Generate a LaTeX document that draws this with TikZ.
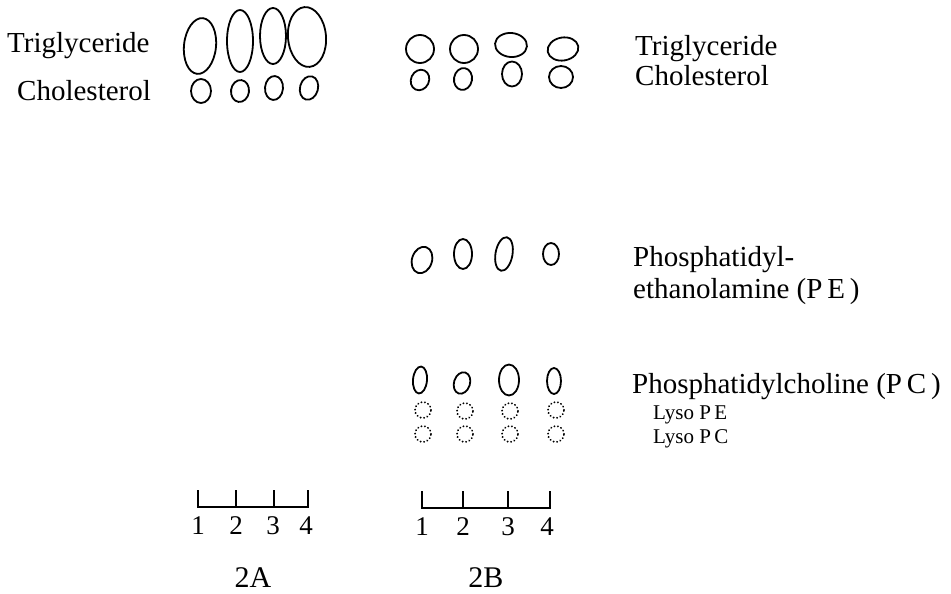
\documentclass[tikz,border=0pt]{standalone}
\usepackage{fontspec}
\setmainfont{Liberation Serif}
\usetikzlibrary{shapes.geometric}
\begin{document}
\begin{tikzpicture}[x=1pt,y=-1pt,
  spot/.style={draw,ellipse,line width=1.8pt,inner sep=0pt},
  dspot/.style={draw,circle,line width=2pt,inner sep=0pt,minimum size=16pt,
     dash pattern=on 0.1pt off 3.4pt,line cap=round},
  lab/.style={anchor=base west,inner sep=0pt,font=\fontsize{29}{32}\selectfont},
  small/.style={anchor=base west,inner sep=0pt,font=\fontsize{21}{24}\selectfont},
  num/.style={anchor=base,inner sep=0pt,font=\fontsize{27}{30}\selectfont},
  big/.style={anchor=base,inner sep=0pt,font=\fontsize{30}{33}\selectfont},
  bar/.style={line width=1.4pt}]
\useasboundingbox (0,0) rectangle (951,594);
% ---- 2A ----
\node[spot,minimum width=32pt,minimum height=56pt,rotate=-6] (at1) at (200,46) {};
\node[spot,minimum width=26pt,minimum height=62pt] (at2) at (240,41) {};
\node[spot,minimum width=26pt,minimum height=56pt] (at3) at (273,36) {};
\node[spot,minimum width=38pt,minimum height=60pt,rotate=5] (at4) at (307,37) {};
\node[spot,minimum width=20pt,minimum height=24pt] (ac1) at (201,91) {};
\node[spot,minimum width=18pt,minimum height=22pt,rotate=-8] (ac2) at (240,91) {};
\node[spot,minimum width=18pt,minimum height=24pt,rotate=-5] (ac3) at (274,88) {};
\node[spot,minimum width=18pt,minimum height=24pt,rotate=-15] (ac4) at (309,88) {};
\node[lab] (ltA) at (7,53) {Triglyceride};
\node[lab] (lcA) at (17,100) {Cholesterol};
% ---- 2B ----
\node[spot,minimum width=28pt,minimum height=28pt] (bt1) at (420,49) {};
\node[spot,minimum width=28pt,minimum height=28pt] (bt2) at (464,49) {};
\node[spot,minimum width=32pt,minimum height=24pt,rotate=-5] (bt3) at (511,45) {};
\node[spot,minimum width=31pt,minimum height=23pt,rotate=10] (bt4) at (563,49) {};
\node[spot,minimum width=18pt,minimum height=21pt,rotate=-25] (bc1) at (420,80) {};
\node[spot,minimum width=18pt,minimum height=22pt,rotate=-10] (bc2) at (463,79) {};
\node[spot,minimum width=20pt,minimum height=25pt] (bc3) at (512,74) {};
\node[spot,minimum width=24pt,minimum height=22pt] (bc4) at (561,77) {};
\node[lab] (ltB) at (635,56) {Triglyceride};
\node[lab] (lcB) at (635,85) {Cholesterol};
% PE
\node[spot,minimum width=20pt,minimum height=27pt,rotate=-18] (pe1) at (422,260) {};
\node[spot,minimum width=18pt,minimum height=30pt] (pe2) at (463,254) {};
\node[spot,minimum width=17pt,minimum height=34pt,rotate=-10] (pe3) at (504,254) {};
\node[spot,minimum width=16pt,minimum height=22pt] (pe4) at (551,254) {};
\node[lab] (lpe1) at (633,266) {Phosphatidyl-};
\node[lab] (lpe2) at (633,298) {ethanolamine (P\,E\,)};
% PC
\node[spot,minimum width=14pt,minimum height=27pt,rotate=-5] (pc1) at (420,380) {};
\node[spot,minimum width=16pt,minimum height=22pt,rotate=-18] (pc2) at (462,383) {};
\node[spot,minimum width=20pt,minimum height=31pt] (pc3) at (509,380) {};
\node[spot,minimum width=14pt,minimum height=26pt] (pc4) at (554,381) {};
\node[lab] (lpc) at (632,393) {Phosphatidylcholine (P\,C\,)};
% Lyso
\node[dspot] (le1) at (423,410) {};
\node[dspot] (le2) at (465,411) {};
\node[dspot] (le3) at (510,411) {};
\node[dspot] (le4) at (556,410) {};
\node[dspot] (lc1) at (423,434) {};
\node[dspot] (lc2) at (465,434) {};
\node[dspot] (lc3) at (510,434) {};
\node[dspot] (lc4) at (556,434) {};
\node[small] (llpe) at (653,419) {Lyso P\,E};
\node[small] (llpc) at (653,443) {Lyso P\,C};
% ---- scale bars ----
\draw[bar] (198,490) -- (198,507) -- (308,507) -- (308,490);
\draw[bar] (236,490) -- (236,507);
\draw[bar] (274,490) -- (274,507);
\node[num] (na1) at (198,534) {1};
\node[num] (na2) at (236,534) {2};
\node[num] (na3) at (273,534) {3};
\node[num] (na4) at (306,534) {4};
\node[big] (tA) at (253,587) {2A};
\draw[bar] (422,491) -- (422,508) -- (550,508) -- (550,491);
\draw[bar] (463,491) -- (463,508);
\draw[bar] (508,491) -- (508,508);
\node[num] (nb1) at (422,535) {1};
\node[num] (nb2) at (463,535) {2};
\node[num] (nb3) at (508,535) {3};
\node[num] (nb4) at (547,535) {4};
\node[big] (tB) at (486,587) {2B};
\end{tikzpicture}
\end{document}
